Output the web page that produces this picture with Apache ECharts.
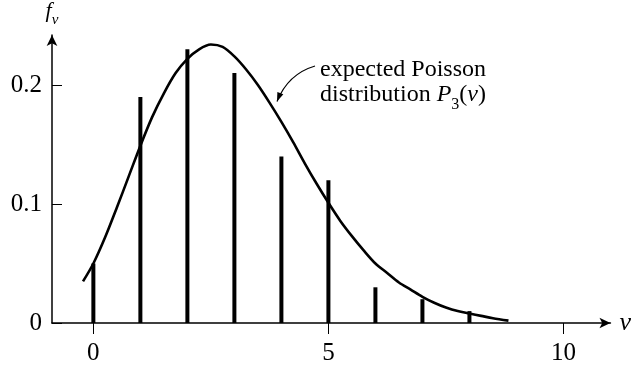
<!DOCTYPE html>
<html>
<head>
<meta charset="utf-8">
<script src="https://cdn.jsdelivr.net/npm/echarts@6/dist/echarts.min.js"></script>
<style>
  html, body { margin: 0; padding: 0; background: #fff; }
  #chart { width: 634px; height: 367px; }
</style>
</head>
<body>
<div id="chart"></div>
<script>
// Observed relative frequencies f_nu for each count nu
const nu = [0, 1, 2, 3, 4, 5, 6, 7, 8];
const freq = [0.05, 0.19, 0.23, 0.21, 0.14, 0.12, 0.03, 0.02, 0.01];

// Expected Poisson distribution P_3(nu), sampled along the smooth curve
const curveNu = [-0.22, 0, 0.25, 0.5, 0.75, 1, 1.25, 1.5, 1.75, 2, 2.25, 2.5, 2.75, 3, 3.25, 3.5, 3.75, 4,
                 4.25, 4.5, 4.75, 5, 5.25, 5.5, 5.75, 6, 6.25, 6.5, 6.75, 7, 7.25, 7.5, 7.75, 8, 8.25, 8.5, 8.83];
const curveP  = [0.035, 0.05, 0.072, 0.097, 0.123, 0.149, 0.173, 0.193, 0.21, 0.222, 0.23, 0.234, 0.232, 0.224, 0.213, 0.2, 0.185, 0.169,
                 0.152, 0.134, 0.117, 0.101, 0.086, 0.073, 0.061, 0.05, 0.042, 0.034, 0.028, 0.022, 0.017, 0.013, 0.01, 0.008, 0.006, 0.004, 0.002];

// Axis ticks
const xTicks = [0, 5, 10];
const yTicks = [0, 0.1, 0.2];
const xTickLabels = ['0', '5', '10'];
const yTickLabels = ['0', '0.1', '0.2'];

const SERIF = '"Liberation Serif", "DejaVu Serif", serif';

const chart = echarts.init(document.getElementById('chart'), null, { renderer: 'canvas' });

// Curved pointer from the caption to the curve
const arrowStart = [315, 66], arrowCtrl = [288, 74], arrowTip = [277, 101.5];
function arrowHead(tip, from, len, half) {
  const dx = tip[0] - from[0], dy = tip[1] - from[1];
  const d = Math.hypot(dx, dy), ux = dx / d, uy = dy / d;
  const bx = tip[0] - ux * len, by = tip[1] - uy * len;
  return [tip, [bx - uy * half, by + ux * half], [bx + uy * half, by - ux * half]];
}

chart.setOption({
  animation: false,
  backgroundColor: '#fff',
  grid: { left: 52, right: 22, top: 32, bottom: 44, containLabel: false },
  xAxis: {
    type: 'value',
    min: -0.88,
    max: 11,
    name: 'ν',
    nameLocation: 'end',
    nameGap: 9,
    nameTextStyle: { fontFamily: SERIF, fontStyle: 'italic', fontSize: 26, color: '#000', verticalAlign: 'middle' },
    axisLine: { show: true, onZero: false, symbol: ['none', 'arrow'], symbolSize: [8, 11], lineStyle: { color: '#000', width: 1.5 } },
    axisTick: { show: true, customValues: xTicks, length: 11, lineStyle: { color: '#000', width: 1 } },
    axisLabel: {
      customValues: xTicks,
      formatter: v => xTickLabels[xTicks.indexOf(v)],
      fontFamily: SERIF, fontSize: 25, color: '#000', margin: 18
    },
    splitLine: { show: false }
  },
  yAxis: {
    type: 'value',
    min: 0,
    max: 0.242,
    name: '{f|f}{s|ν}',
    nameLocation: 'end',
    nameGap: 7,
    nameTextStyle: {
      color: '#000',
      rich: {
        f: { fontFamily: SERIF, fontStyle: 'italic', fontSize: 22, lineHeight: 28, verticalAlign: 'top', color: '#000' },
        s: { fontFamily: SERIF, fontStyle: 'italic', fontSize: 15, lineHeight: 28, verticalAlign: 'bottom', color: '#000' }
      }
    },
    axisLine: { show: true, onZero: false, symbol: ['none', 'arrow'], symbolSize: [8, 11], lineStyle: { color: '#000', width: 1.5 } },
    axisTick: { show: true, inside: true, customValues: yTicks, length: 10, lineStyle: { color: '#000', width: 1 } },
    axisLabel: {
      customValues: yTicks,
      formatter: v => yTickLabels[yTicks.indexOf(v)],
      fontFamily: SERIF, fontSize: 25, color: '#000', margin: 10
    },
    splitLine: { show: false }
  },
  series: [
    {
      type: 'bar',
      data: nu.map((v, i) => [v, freq[i]]),
      barWidth: 4,
      itemStyle: { color: '#000' },
      z: 2
    },
    {
      type: 'line',
      data: curveNu.map((v, i) => [v, curveP[i]]),
      smooth: 0.3,
      showSymbol: false,
      symbol: 'none',
      lineStyle: { color: '#000', width: 2.6 },
      z: 3
    }
  ],
  graphic: [
    {
      type: 'text',
      x: 320, y: 58,
      style: { text: 'expected Poisson', font: '24px ' + SERIF, fill: '#000', textVerticalAlign: 'top' }
    },
    {
      type: 'text',
      x: 320, y: 83,
      style: {
        text: '{n|distribution }{i|P}{s|3}{n|(}{i|ν}{n|)}',
        fill: '#000',
        rich: {
          n: { fontFamily: SERIF, fontSize: 24, lineHeight: 30, verticalAlign: 'top', fill: '#000' },
          i: { fontFamily: SERIF, fontStyle: 'italic', fontSize: 24, lineHeight: 30, verticalAlign: 'top', fill: '#000' },
          s: { fontFamily: SERIF, fontSize: 16, lineHeight: 30, verticalAlign: 'bottom', fill: '#000' }
        }
      }
    },
    {
      type: 'bezierCurve',
      shape: { x1: arrowStart[0], y1: arrowStart[1], x2: arrowTip[0], y2: arrowTip[1], cpx1: arrowCtrl[0], cpy1: arrowCtrl[1] },
      style: { stroke: '#000', lineWidth: 1.2, fill: null }
    },
    {
      type: 'polygon',
      shape: { points: arrowHead(arrowTip, arrowCtrl, 9, 3.2) },
      style: { fill: '#000' }
    }
  ]
});
</script>
</body>
</html>
